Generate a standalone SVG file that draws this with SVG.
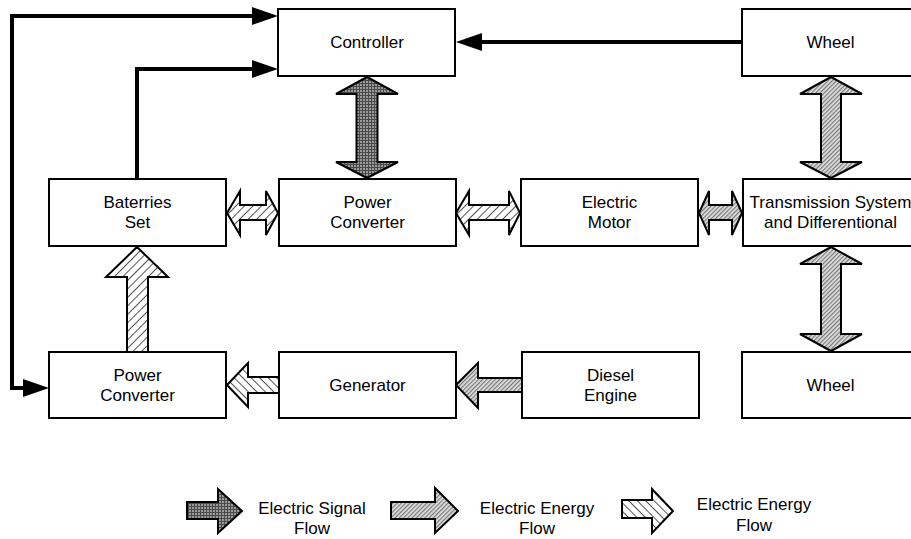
<svg xmlns="http://www.w3.org/2000/svg" width="911" height="539" viewBox="0 0 911 539">
<style>
.box{fill:#fff;stroke:#000;stroke-width:2}
.t{font-family:"Liberation Sans",Arial,sans-serif;font-size:17px;fill:#000;text-anchor:middle}
.sig{fill:url(#pDark);stroke:#000;stroke-width:2;stroke-linejoin:miter}
.gray{fill:url(#pGray);stroke:#000;stroke-width:2;stroke-linejoin:miter}
.hatch{fill:url(#pHatch);stroke:#000;stroke-width:2;stroke-linejoin:miter}
.hatch2{fill:url(#pHatch2);stroke:#000;stroke-width:2;stroke-linejoin:miter}
.line{fill:none;stroke:#000;stroke-width:4}
</style>
<defs>
<pattern id="pDark" width="3" height="3" patternUnits="userSpaceOnUse">
<rect width="3" height="3" fill="#4a4a4a"/>
<rect width="2" height="2" fill="#9a9a9a"/>
</pattern>
<pattern id="pGray" width="3" height="3" patternUnits="userSpaceOnUse" patternTransform="rotate(-45)">
<rect width="3" height="3" fill="#e0e0e0"/>
<rect width="3" height="1.2" fill="#777"/>
</pattern>
<pattern id="pHatch" width="6" height="6" patternUnits="userSpaceOnUse" patternTransform="rotate(45)">
<rect width="6" height="6" fill="#fff"/>
<rect width="1" height="6" fill="#555"/>
</pattern>
<pattern id="pHatch2" width="6" height="6" patternUnits="userSpaceOnUse" patternTransform="rotate(-45)">
<rect width="6" height="6" fill="#fff"/>
<rect width="1" height="6" fill="#555"/>
</pattern>
</defs>

<g id="connectors">
<path class="line" d="M25,388 H12 V16 H254"/>
<polygon points="252,7 278,16 252,25"/>
<polygon points="23,379 49,388 23,397"/>
<path class="line" d="M137,179 V69 H254"/>
<polygon points="252,60 278,69 252,78"/>
<path class="line" d="M742,42 H480"/>
<polygon points="482,33 456,42 482,51"/>
<path class="sig" d="M367,77 L398,94 L377.5,94 L377.5,162 L398,162 L367,178 L336,162 L356.5,162 L356.5,94 L336,94 Z"/>
<path class="gray" d="M831,77 L862,94 L841,94 L841,162 L862,162 L831,178 L800,162 L821,162 L821,94 L800,94 Z"/>
<path class="gray" d="M831,247 L862,264 L841,264 L841,334 L862,334 L831,351 L800,334 L821,334 L821,264 L800,264 Z"/>
<path class="hatch" d="M227,213 L240,191 L240,205 L266,205 L266,191 L278,213 L266,235 L266,220 L240,220 L240,235 Z"/>
<path class="hatch" d="M456,213 L469,191 L469,205 L509,205 L509,191 L520,213 L509,235 L509,220 L469,220 L469,235 Z"/>
<path class="gray" d="M699,213 L709,191 L709,205 L732,205 L732,191 L742,213 L732,235 L732,220 L709,220 L709,235 Z"/>
<path class="hatch" d="M137,247 L168,277 L148,277 L148,352 L127,352 L127,277 L106,277 Z"/>
<path class="hatch2" d="M227,385 L248,363 L248,377 L279,377 L279,393 L248,393 L248,407 Z"/>
<path class="gray" d="M456,385 L478,363 L478,378 L522,378 L522,392 L478,392 L478,408 Z"/>
</g>

<g id="controller"><rect class="box" x="278" y="9" width="177" height="67"/><text class="t" x="367" y="48">Controller</text></g>
<g id="wheel-top"><rect class="box" x="742" y="9" width="177" height="67"/><text class="t" x="830.5" y="48">Wheel</text></g>
<g id="batteries"><rect class="box" x="49" y="179" width="177" height="67"/><text class="t" x="137.5" y="208">Baterries</text><text class="t" x="137.5" y="228">Set</text></g>
<g id="power-converter-1"><rect class="box" x="279" y="179" width="177" height="67"/><text class="t" x="367.5" y="208">Power</text><text class="t" x="367.5" y="228">Converter</text></g>
<g id="electric-motor"><rect class="box" x="521" y="179" width="177" height="67"/><text class="t" x="609.5" y="208">Electric</text><text class="t" x="609.5" y="228">Motor</text></g>
<g id="transmission"><rect class="box" x="743" y="179" width="177" height="67"/><text class="t" x="830.5" y="208">Transmission System</text><text class="t" x="830.5" y="228">and Differentional</text></g>
<g id="power-converter-2"><rect class="box" x="49" y="352" width="177" height="66"/><text class="t" x="137.5" y="381">Power</text><text class="t" x="137.5" y="401">Converter</text></g>
<g id="generator"><rect class="box" x="279" y="352" width="177" height="66"/><text class="t" x="367.5" y="391">Generator</text></g>
<g id="diesel"><rect class="box" x="522" y="352" width="177" height="66"/><text class="t" x="610.5" y="381">Diesel</text><text class="t" x="610.5" y="401">Engine</text></g>
<g id="wheel-bottom"><rect class="box" x="742" y="352" width="177" height="66"/><text class="t" x="830.5" y="391">Wheel</text></g>

<g id="legend">
<path class="sig" d="M187,502 L218,502 L218,489 L242,511 L218,533 L218,519 L187,519 Z"/>
<text class="t" x="312" y="514">Electric Signal</text><text class="t" x="312" y="534">Flow</text>
<path class="gray" d="M391,502 L435,502 L435,488 L458,511 L435,533 L435,519 L391,519 Z"/>
<text class="t" x="537" y="514">Electric Energy</text><text class="t" x="537" y="534">Flow</text>
<path class="hatch2" d="M622,500 L652,500 L652,489 L673,511 L652,533 L652,518 L622,518 Z"/>
<text class="t" x="754" y="510">Electric Energy</text><text class="t" x="754" y="531">Flow</text>
</g>
</svg>
